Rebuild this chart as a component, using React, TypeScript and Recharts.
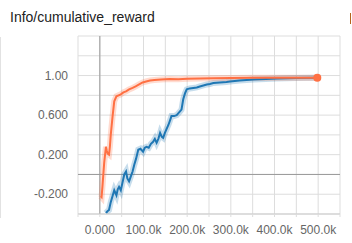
import React from "react";
import {
  CartesianGrid,
  Line,
  LineChart,
  ReferenceLine,
  XAxis,
  YAxis,
} from "recharts";

// steps are in thousands
const orangeSteps = [
  2, 4, 6, 8, 10, 12, 14, 16, 18, 21, 23, 25, 29, 33, 38, 43, 48, 54, 60, 67,
  75, 82, 90, 98, 106, 115, 125, 140, 160, 180, 200, 230, 260, 300, 350, 400,
  450, 498,
];
const orangeValues = [
  -0.22, -0.23, -0.12, 0.0, 0.12, 0.2, 0.28, 0.24, 0.21, 0.2, 0.28, 0.4, 0.58,
  0.74, 0.79, 0.8, 0.81, 0.83, 0.84, 0.86, 0.875, 0.89, 0.91, 0.93, 0.94, 0.95,
  0.955, 0.96, 0.965, 0.962, 0.968, 0.97, 0.972, 0.975, 0.977, 0.978, 0.979,
  0.978,
];

const blueSteps = [
  14, 18, 21, 25, 29, 33, 36, 38, 41, 44, 48, 52, 56, 60, 63, 67, 71, 75, 79,
  83, 88, 93, 99, 103, 107, 112, 117, 122, 126, 130, 134, 138, 142, 145, 149,
  153, 157, 161, 164, 170, 176, 182, 187, 191, 195, 199, 206, 214, 222, 229,
  237, 245, 252, 260, 275, 290, 298, 320, 352, 380, 405, 450, 497,
];
const blueValues = [
  -0.39, -0.37, -0.36, -0.28, -0.22, -0.16, -0.19, -0.21, -0.15, -0.125, -0.16,
  -0.08, 0.0, 0.03, -0.04, -0.07, -0.02, 0.03, 0.1, 0.16, 0.25, 0.26, 0.23,
  0.27, 0.28, 0.27, 0.31, 0.33, 0.36, 0.32, 0.36, 0.42, 0.38, 0.37, 0.42, 0.46,
  0.5, 0.55, 0.59, 0.59, 0.6, 0.63, 0.655, 0.76, 0.82, 0.86, 0.87, 0.875, 0.88,
  0.89, 0.9, 0.91, 0.915, 0.925, 0.93, 0.935, 0.94, 0.95, 0.96, 0.965, 0.97,
  0.975, 0.977,
];

const xTicks = [-50, 0, 50, 100, 150, 200, 250, 300, 350, 400, 450, 500, 550];
const yTicks = [-0.4, -0.2, 0, 0.2, 0.4, 0.6, 0.8, 1.0, 1.2, 1.4];
const yLabels: [number, string][] = [
  [1.0, "1.00"],
  [0.6, "0.600"],
  [0.2, "0.200"],
  [-0.2, "-0.200"],
];

const orangeData = orangeSteps.map((s, i) => ({ step: s, value: orangeValues[i] }));
const blueData = blueSteps.map((s, i) => ({ step: s, value: blueValues[i] }));

const ORANGE = "#ff7043";
const BLUE = "#1f77b4";

const fmtX = (v: number) => {
  if (v < 0 || v % 100 !== 0) return "";
  return v === 0 ? "0.000" : v.toFixed(1) + "k";
};

const fmtY = (v: number) => {
  const hit = yLabels.find(([t]) => Math.abs(t - v) < 1e-6);
  return hit ? hit[1] : "";
};

const EndDot = (props: any) => {
  const { cx, cy, index } = props;
  if (index !== orangeData.length - 1) return <g key={index} />;
  return <circle key={index} cx={cx} cy={cy} r={4} fill={ORANGE} />;
};

const tickStyle = { fontFamily: "Liberation Sans", fontSize: 12, fill: "#666" };

export default function App() {
  return (
    <div
      style={{
        position: "absolute",
        left: 0,
        top: 0,
        width: 352,
        height: 243,
        background: "#fff",
        overflow: "hidden",
      }}
    >
      <div
        style={{
          position: "absolute",
          left: 10,
          top: 9,
          fontFamily: "Liberation Sans",
          fontSize: 14,
          color: "#222",
        }}
      >
        Info/cumulative_reward
      </div>
      <div
        style={{
          position: "absolute",
          left: 0,
          top: 37,
          width: 1,
          height: 181,
          background: "#e2e2e2",
        }}
      />
      <div
        style={{
          position: "absolute",
          left: 350,
          top: 13,
          width: 1,
          height: 11,
          background: "#b5651d",
        }}
      />
      <LineChart
        width={352}
        height={243}
        margin={{ top: 36, right: 12, left: 8, bottom: 0 }}
      >
        <CartesianGrid stroke="#ddd" strokeWidth={1} />
        <XAxis
          type="number"
          dataKey="step"
          domain={[-50, 550]}
          ticks={xTicks}
          tickFormatter={fmtX}
          interval={0}
          height={29}
          axisLine={{ stroke: "#ccc" }}
          tickLine={{ stroke: "#ddd" }}
          tickSize={3}
          tickMargin={8}
          tick={tickStyle}
          allowDataOverflow
        />
        <YAxis
          type="number"
          domain={[-0.4, 1.4]}
          ticks={yTicks}
          tickFormatter={fmtY}
          interval={0}
          width={70}
          axisLine={false}
          tickLine={false}
          tickSize={8}
          tickMargin={2}
          tick={tickStyle}
          allowDataOverflow
        />
        <ReferenceLine x={0} stroke="#999" />
        <ReferenceLine y={0} stroke="#999" />
        <Line
          data={blueData}
          dataKey="value"
          stroke={BLUE}
          strokeOpacity={0.25}
          strokeWidth={6}
          dot={false}
          isAnimationActive={false}
          type="linear"
        />
        <Line
          data={orangeData}
          dataKey="value"
          stroke={ORANGE}
          strokeOpacity={0.25}
          strokeWidth={6}
          dot={false}
          isAnimationActive={false}
          type="linear"
        />
        <Line
          data={blueData}
          dataKey="value"
          stroke={BLUE}
          strokeWidth={2}
          dot={false}
          isAnimationActive={false}
          type="linear"
        />
        <Line
          data={orangeData}
          dataKey="value"
          stroke={ORANGE}
          strokeWidth={2}
          dot={EndDot}
          isAnimationActive={false}
          type="linear"
        />
      </LineChart>
    </div>
  );
}
